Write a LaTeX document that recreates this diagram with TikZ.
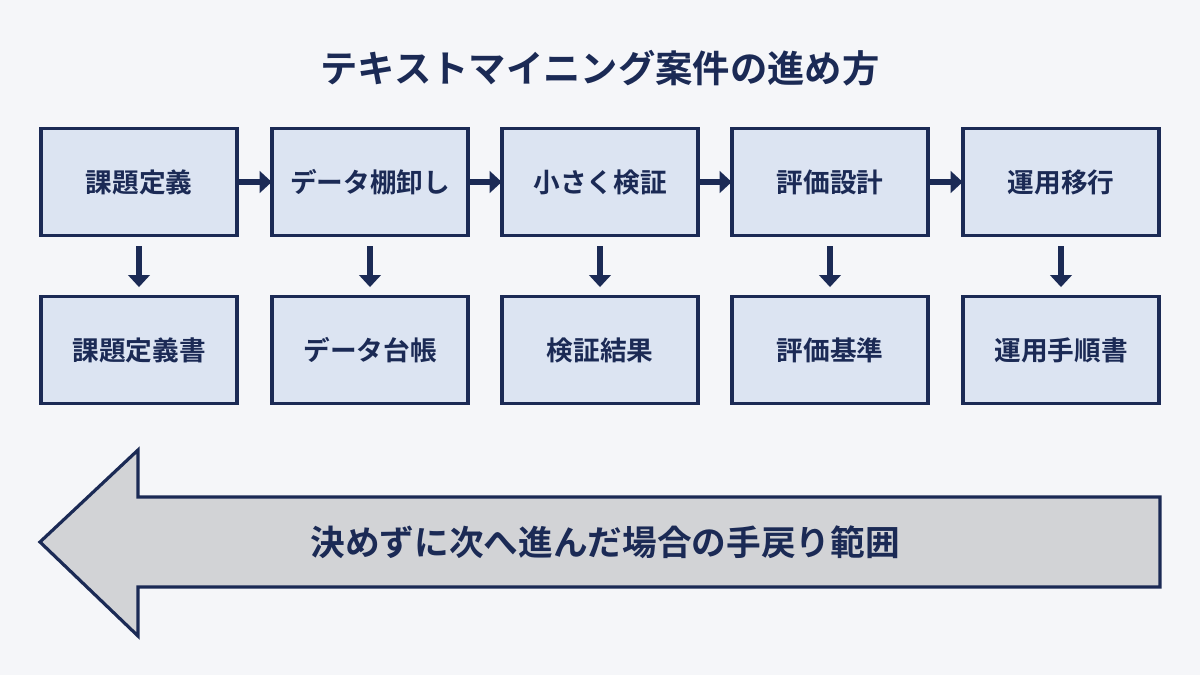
\documentclass[tikz,border=0pt]{standalone}
\usepackage{fontspec}
\newfontfamily\cjk{Noto Sans CJK JP Bold}
\usetikzlibrary{positioning,arrows.meta}
\definecolor{navy}{HTML}{1B2A55}
\definecolor{boxfill}{HTML}{DCE4F2}
\definecolor{arrowfill}{HTML}{D2D3D6}
\definecolor{bg}{HTML}{F5F6F9}
\begin{document}
\begin{tikzpicture}[x=0.75pt,y=-0.75pt,
    stage/.style={draw=navy, line width=2.4pt, fill=boxfill, minimum width=147pt,
      minimum height=80pt, inner sep=0pt, font=\cjk\fontsize{20}{20}\selectfont, text=navy},
    flow/.style={-{Triangle[length=9pt,width=16pt]}, draw=navy, line width=5pt}]
  \fill[bg] (0,0) rectangle (1200,675);
  \node[font=\cjk\fontsize{28}{28}\selectfont, text=navy] (title) at (600,68) {テキストマイニング案件の進め方};
  \foreach \i/\x/\top/\bot in {1/139/課題定義/課題定義書, 2/370/データ棚卸し/データ台帳,
      3/600/小さく検証/検証結果, 4/830/評価設計/評価基準, 5/1061/運用移行/運用手順書}{
    \node[stage] (s\i) at (\x,182) {\top};
    \node[stage] (o\i) at (\x,350) {\bot};
    \draw[flow, shorten <=7pt, shorten >=6pt] (s\i.south) -- (o\i.north);
  }
  \foreach \i/\j in {1/2,2/3,3/4,4/5}
    \draw[flow, shorten >=-1pt] (s\i.east) -- (s\j.west);
  % return range
  \draw[navy, line width=2.4pt, fill=arrowfill, line join=miter]
    (1160,497) -- (138,497) -- (138,450) -- (40,542) -- (138,636) -- (138,587)
    -- (1160,587) -- cycle;
  \node[font=\cjk\fontsize{26}{26}\selectfont, text=navy] (back) at (605,542) {決めずに次へ進んだ場合の手戻り範囲};
\end{tikzpicture}
\end{document}
